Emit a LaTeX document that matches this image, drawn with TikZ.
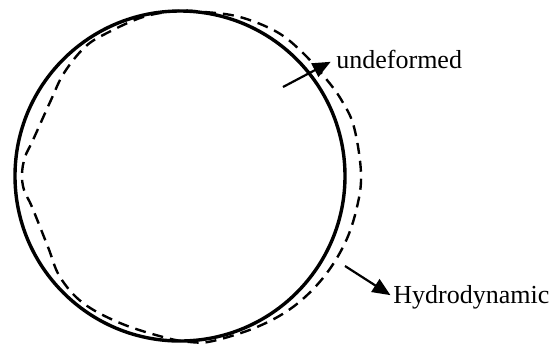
\documentclass[tikz,border=0pt]{standalone}
\usepackage{fontspec}
\setmainfont{Liberation Serif}
\usetikzlibrary{arrows.meta}
\begin{document}
\begin{tikzpicture}[x=0.5pt, y=-0.5pt, >={Triangle[length=9pt,width=7.5pt]},
  lbl/.style={font=\fontsize{13}{15}\selectfont, inner sep=0pt, anchor=base west}]
\useasboundingbox (0,0) rectangle (553,345);
\draw[line width=1.7pt] (180,176) circle[radius=165];
\draw[line width=1.2pt, dash pattern=on 5.5pt off 3.5pt] plot[smooth cycle, tension=0.6] coordinates {
  (177,11) (205,12) (240,17) (277,32) (303,53) (327,80) (342,101) (354,127) (361,173)
  (357,207) (345,243) (323,278) (293,307) (257,327) (213,341) (190,342) (163,337)
  (120,323) (83,303) (60,277) (48,247) (32,207) (24,190) (22,174) (25,157) (33,140)
  (51,100) (64,73) (85,47) (107,33) (143,17)};
\node[lbl] (undef) at (336,68) {undeformed};
\node[lbl] (hydro) at (393,303) {Hydrodynamic};
\coordinate (ustart) at (283,87);
\coordinate (hstart) at (345,266);
\draw[->, line width=1.1pt, shorten >=3pt] (ustart) -- (undef.west);
\draw[->, line width=1.1pt, shorten >=1.5pt] (hstart) -- (hydro.west);
\end{tikzpicture}
\end{document}
